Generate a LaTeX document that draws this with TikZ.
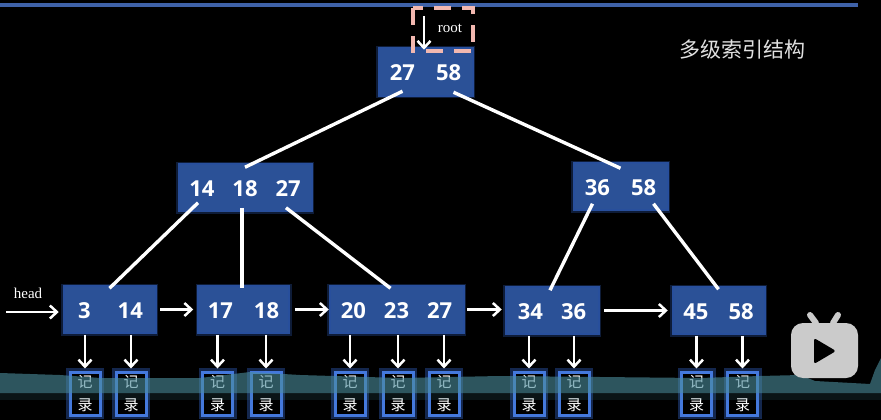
\documentclass[tikz,border=0pt]{standalone}
\usepackage{fontspec}
\setmainfont{Open Sans}
\newfontfamily\cjk{Noto Sans CJK SC}
\newfontfamily\labelfont{Liberation Serif}
\usetikzlibrary{arrows.meta,positioning}
\definecolor{boxblue}{HTML}{2B5197}
\definecolor{glowblue}{HTML}{3A72E0}
\definecolor{recblue}{HTML}{4478DC}
\definecolor{topblue}{HTML}{3F62A8}
\definecolor{rootpink}{HTML}{F2B8B0}
\definecolor{wavecol}{HTML}{4C8E9E}
\definecolor{iconcol}{HTML}{CBCBCB}
\tikzset{
  idxbox/.style={fill=boxblue,draw=boxblue,line width=.5pt,minimum height=44pt,inner sep=0pt,text=white,text height=18pt,text depth=0pt,
    font=\fontsize{22}{22}\selectfont\bfseries,
    preaction={draw=glowblue,line width=8pt,opacity=.25},
    preaction={draw=glowblue,line width=5pt,opacity=.6}},
  recbox/.style={fill=black,draw=recblue,line width=3pt,minimum width=30pt,minimum height=43pt,inner sep=0pt,align=center,text=white,
    font=\cjk\fontsize{15}{23}\selectfont,
    preaction={draw=glowblue,line width=8pt,opacity=.35}},
  treeline/.style={draw=white,line width=3.4pt},
  ptr/.style={draw=white,line width=2.6pt,-{Straight Barb[length=7pt,width=13pt,line width=2.5pt]}},
  tag/.style={text=white,font=\labelfont\fontsize{15}{15}\selectfont,inner sep=0pt}
}
\begin{document}
\begin{tikzpicture}[x=1pt,y=-1pt]
\fill[black] (0,0) rectangle (881,420);
\useasboundingbox (0,0) rectangle (881,420);
\fill[topblue] (0,3) rectangle (858,7);
% index levels
\node[idxbox,minimum width=91pt] (root) at (425.5,72) {27\hspace{21pt}58};
\node[idxbox,minimum width=130pt] (inner1) at (245,187.5) {14\hspace{18pt}18\hspace{18pt}27};
\node[idxbox,minimum width=91pt] (inner2) at (620.5,186.5) {36\hspace{21pt}58};
\node[idxbox,minimum width=89pt] (leaf1) at (109.5,309.5) {\hspace{2pt}3\hspace{27pt}14};
\node[idxbox,minimum width=88pt] (leaf2) at (243.5,309.5) {17\hspace{21pt}18\hspace{4pt}};
\node[idxbox,minimum width=131pt] (leaf3) at (396.5,309.5) {20\hspace{18pt}23\hspace{18pt}27};
\node[idxbox,minimum width=90pt] (leaf4) at (552,310.5) {34\hspace{18pt}36\hspace{4pt}};
\node[idxbox,minimum width=89pt] (leaf5) at (718.5,310.5) {45\hspace{20pt}58};
% records
\foreach \name/\x in {rec1/85,rec2/131,rec3/217.5,rec4/266,rec5/350,rec6/398,rec7/444,rec8/529,rec9/574,rec10/696.5,rec11/742.5}
  \node[recbox] (\name) at (\x,393.5) {记\\录};
% root marker
\draw[rootpink,line width=3.5pt,dash pattern=on 17pt off 11pt] (413,8) rectangle (473,51);
\node[tag] (rootlabel) at (450,28) {root};
\coordinate (roottop) at (424,16);
\draw[ptr] (roottop) -- (root.north -| roottop);
\node[tag] (headlabel) at (28,293) {head};
\coordinate (headstart) at (6,312);
\draw[ptr,shorten >=6pt] (headstart) -- (headstart -| leaf1.west);
% tree edges
\draw[treeline] ([xshift=-23pt,yshift=3pt]root.south) -- ([yshift=-2pt]inner1.north);
\draw[treeline] ([xshift=28pt,yshift=2pt]root.south) -- ([yshift=-4pt]inner2.north);
\draw[treeline] ([xshift=-47pt,yshift=7pt]inner1.south) -- ([xshift=0pt,yshift=-1pt]leaf1.north);
\draw[treeline] ([xshift=-3pt,yshift=2pt]inner1.south) -- ([xshift=-1.5pt,yshift=-1pt]leaf2.north);
\draw[treeline] ([xshift=41pt,yshift=2pt]inner1.south) -- ([xshift=-6pt,yshift=-1pt]leaf3.north);
\draw[treeline] ([xshift=-28pt,yshift=5pt]inner2.south) -- ([xshift=-2pt,yshift=-2pt]leaf4.north);
\draw[treeline] ([xshift=33pt,yshift=5pt]inner2.south) -- ([xshift=0pt,yshift=-1pt]leaf5.north);
% leaf chain
\draw[ptr,shorten <=6pt,shorten >=6pt] (leaf1) -- (leaf2);
\draw[ptr,shorten <=7pt,shorten >=2pt] (leaf2) -- (leaf3);
\draw[ptr,shorten <=5pt,shorten >=5pt] (leaf3.east) -- (leaf3.east -| leaf4.west);
\draw[ptr,shorten <=7pt,shorten >=6pt] (leaf4.east) -- (leaf5.west);
% leaf to record
\foreach \from/\to in {leaf1/rec1,leaf1/rec2,leaf2/rec3,leaf2/rec4,leaf3/rec5,leaf3/rec6,leaf3/rec7,leaf4/rec8,leaf4/rec9,leaf5/rec10,leaf5/rec11}
  \draw[ptr,shorten <=3pt,shorten >=2pt] (\to.north |- \from.south) -- (\to.north);
% band across the bottom
\fill[wavecol,opacity=.6] (0,373) -- (60,375) -- (100,378) -- (200,378) -- (250,372) -- (300,375) -- (400,378)
  -- (500,376) -- (600,377) -- (700,378) -- (760,376) -- (800,375) -- (815,381) -- (870,384) -- (875,370) -- (881,358)
  -- (881,393) -- (0,393) -- cycle;
\fill[wavecol,opacity=.14] (0,393) rectangle (881,400);
% logo
\fill[iconcol,rounded corners=12pt] (791,323) rectangle (858,378);
\draw[iconcol,line width=6pt,line cap=round] (816,323) -- (810,315);
\draw[iconcol,line width=6pt,line cap=round] (833,323) -- (838,315);
\fill[black,rounded corners=2.5pt] (814,338) -- (836,351) -- (814,364) -- cycle;
\node[text=iconcol!60!white,font=\cjk\fontsize{21}{21}\selectfont,inner sep=0pt] (title) at (742,50) {多级索引结构};
\end{tikzpicture}
\end{document}
